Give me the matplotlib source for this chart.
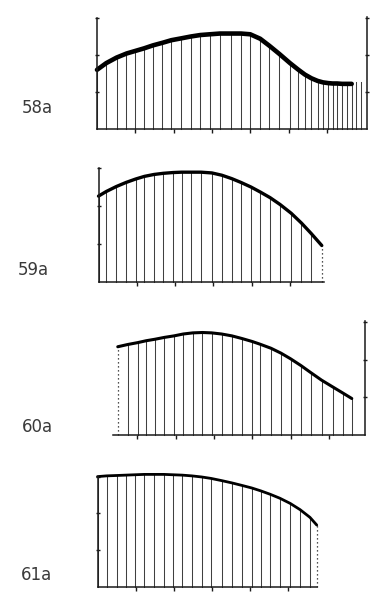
import numpy as np
import matplotlib
matplotlib.use('Agg')
import matplotlib.pyplot as plt

# panel 58a
x58 = [0, 0.24, 0.51, 0.77, 1.0, 1.23, 1.46, 1.71, 1.94, 2.2, 2.45, 2.7, 2.95, 3.21,
       3.5, 3.76, 4.0, 4.26, 4.5, 4.76, 5.04, 5.26, 5.43, 5.6, 5.76, 5.9, 6.04, 6.15,
       6.27, 6.4, 6.53, 6.65]
y58 = [1.6, 1.78, 1.93, 2.04, 2.11, 2.18, 2.26, 2.33, 2.4, 2.45, 2.5, 2.54, 2.56, 2.58,
       2.58, 2.58, 2.56, 2.44, 2.25, 2.03, 1.78, 1.6, 1.47, 1.37, 1.3, 1.26, 1.24, 1.23,
       1.23, 1.22, 1.22, 1.22]
x58_extra = [6.76, 6.89]
y58_extra = [1.26, 1.26]

# panel 59a
x59 = [0, 0.2, 0.46, 0.72, 0.97, 1.2, 1.45, 1.69, 1.94, 2.17, 2.41, 2.68,
       2.96, 3.22, 3.48, 3.72, 3.98, 4.22, 4.48, 4.74, 5.03, 5.3, 5.55, 5.83]
y59 = [2.26, 2.38, 2.51, 2.62, 2.71, 2.78, 2.83, 2.86, 2.88, 2.89, 2.89, 2.89,
       2.87, 2.81, 2.72, 2.62, 2.5, 2.37, 2.22, 2.04, 1.81, 1.55, 1.28, 0.96]

# panel 60a
x60 = [0.49, 0.75, 1.01, 1.23, 1.46, 1.71, 1.96, 2.2, 2.45, 2.7, 2.94, 3.2, 3.47,
       3.73, 4.0, 4.2, 4.49, 4.75, 5.0, 5.27, 5.53, 5.81, 6.1, 6.36, 6.6]
y60 = [2.34, 2.4, 2.45, 2.5, 2.54, 2.59, 2.63, 2.68, 2.71, 2.72, 2.71, 2.68, 2.63,
       2.56, 2.48, 2.41, 2.3, 2.17, 2.02, 1.84, 1.65, 1.45, 1.27, 1.11, 0.96]

# panel 61a
x61 = [0, 0.24, 0.5, 0.74, 0.98, 1.23, 1.48, 1.75, 1.99, 2.23, 2.48, 2.74,
       2.99, 3.27, 3.53, 3.8, 4.06, 4.3, 4.54, 4.8, 5.07, 5.33, 5.59, 5.77]
y61 = [3.0, 3.02, 3.03, 3.04, 3.05, 3.06, 3.06, 3.06, 3.05, 3.04, 3.02, 2.99,
       2.95, 2.89, 2.83, 2.76, 2.69, 2.61, 2.52, 2.41, 2.27, 2.1, 1.89, 1.68]

labels = ['58a', '59a', '60a', '61a']

W, H = 375, 595
fig = plt.figure(figsize=(W / 100, H / 100), dpi=100)
fig.patch.set_facecolor('white')

XL = (-0.3, 7.3)
YL = (-0.3, 3.4)
INK = '#1a1a1a'


def make_ax(x0px, base_px, ux, uy):
    left = (x0px + XL[0] * ux) / W
    width = (XL[1] - XL[0]) * ux / W
    bottom = (H - base_px + YL[0] * uy) / H
    height = (YL[1] - YL[0]) * uy / H
    ax = fig.add_axes([left, bottom, width, height])
    ax.set_xlim(*XL)
    ax.set_ylim(*YL)
    ax.patch.set_alpha(0)
    ax.spines['top'].set_visible(False)
    for s in ax.spines.values():
        s.set_linewidth(1.1)
        s.set_color(INK)
    ax.spines['bottom'].set_position(('data', 0))
    ax.tick_params(axis='both', colors=INK, width=1, labelleft=False, labelright=False,
                   labelbottom=False)
    ax.tick_params(axis='x', direction='out', length=3)
    ax.tick_params(axis='y', direction='inout', length=3.5)
    return ax


def draw_panel(ax, xs, ys, lw, dotted=(), xmin=0, xmax=7, xticks=range(1, 7),
               left=True, right=None):
    for i, (x, y) in enumerate(zip(xs, ys)):
        if i in dotted:
            ax.plot([x, x], [0, y], color=INK, lw=0.9, ls=(0, (1, 2.2)))
        else:
            ax.plot([x, x], [0, y], color='#404040', lw=0.75)
    ax.plot(xs, ys, color='black', lw=lw, solid_capstyle='round', solid_joinstyle='round')
    ax.spines['bottom'].set_bounds(xmin, xmax)
    ax.set_xticks(list(xticks))
    if left:
        ax.spines['left'].set_position(('data', 0))
        ax.spines['left'].set_bounds(0, 3)
    else:
        ax.spines['left'].set_visible(False)
    if right is not None:
        ax.spines['right'].set_position(('data', right))
        ax.spines['right'].set_bounds(0, 3.03)
    else:
        ax.spines['right'].set_visible(False)
    ax.set_yticks([1, 2, 3])
    ax.tick_params(axis='y', left=left, right=right is not None)


ax1 = make_ax(97, 129, 38.3, 37)
draw_panel(ax1, x58, y58, 3.3, xmin=0, xmax=7.05, xticks=range(1, 7), right=7.05)
for x, y in zip(x58_extra, y58_extra):
    ax1.plot([x, x], [0, y], color='#404040', lw=0.75)

ax2 = make_ax(98.5, 282, 38.3, 38)
draw_panel(ax2, x59, y59, 2.4, dotted=(len(x59) - 1,), xmin=0, xmax=5.9,
           xticks=range(1, 6))

ax3 = make_ax(99, 434.5, 38.3, 37.5)
draw_panel(ax3, x60, y60, 2.2, dotted=(0,), xmin=0.37, xmax=6.95,
           xticks=range(1, 7), left=False, right=6.95)

ax4 = make_ax(97.5, 586.7, 38, 36.7)
draw_panel(ax4, x61, y61, 2.0, dotted=(len(x61) - 1,), xmin=0, xmax=5.78,
           xticks=range(1, 6))

label_pos = [(37, 108), (33, 270), (37, 427), (36, 575)]
for lab, (px, py) in zip(labels, label_pos):
    fig.text(px / W, 1 - py / H, lab, ha='center', va='center', fontsize=12,
             color='#3a3a3a', family='DejaVu Sans')

fig.savefig('out.png', dpi=100, facecolor='white')
